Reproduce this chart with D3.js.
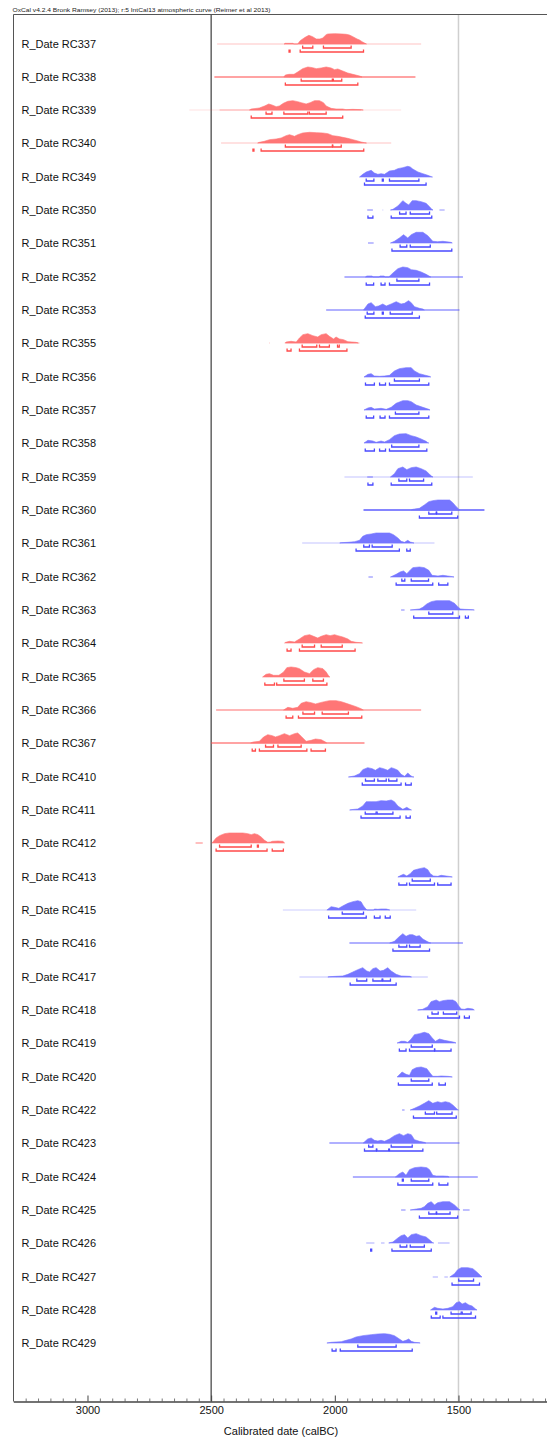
<!DOCTYPE html>
<html>
<head>
<meta charset="utf-8">
<script src="https://cdn.jsdelivr.net/npm/d3@7"></script>
<style>
  body { margin: 0; background: #fff; }
  text { font-family: "Liberation Sans", Arial, sans-serif; }
</style>
</head>
<body>
<div class="viz"></div>
<script>
// SAMPLE NAMES (top to bottom)
const labels = ['RC337','RC338','RC339','RC340','RC349','RC350','RC351','RC352','RC353','RC355',
  'RC356','RC357','RC358','RC359','RC360','RC361','RC362','RC363','RC364','RC365',
  'RC366','RC367','RC410','RC411','RC412','RC413','RC415','RC416','RC417','RC418',
  'RC419','RC420','RC422','RC423','RC424','RC425','RC426','RC427','RC428','RC429']

const redSamples = ['RC337','RC338','RC339','RC340','RC355','RC364','RC365','RC366','RC367','RC412']

// calibrated probability, [year calBC, relative prob]
const dists = [
  [[2205,0],[2200,2],[2170,2],[2165,0],[2150,0],[2140,10],[2120,20],[2105,26],[2090,22],[2075,15],[2060,15],[2049,18],[2035,28],[2028,30],[2000,31],[1970,30],[1954,29],[1941,27],[1927,22],[1910,15],[1900,12],[1890,7],[1880,3],[1872,0]],
  [[2206,0],[2200,6],[2185,8],[2165,8],[2150,15],[2130,25],[2109,30],[2090,28],[2075,25],[2055,27],[2035,30],[2015,27],[2001,22],[1988,24],[1968,18],[1948,12],[1927,8],[1900,3],[1890,0]],
  [[2345,0],[2338,3],[2305,6],[2284,12],[2267,18],[2254,15],[2237,10],[2224,12],[2208,20],[2190,26],[2170,28],[2150,25],[2136,22],[2116,18],[2100,22],[2082,28],[2062,28],[2046,22],[2035,12],[2015,5],[1995,3],[1968,3],[1955,1],[1928,2],[1894,1],[1885,0]],
  [[2312,0],[2305,2],[2285,5],[2264,10],[2237,12],[2217,15],[2197,22],[2183,25],[2163,20],[2150,25],[2130,30],[2102,32],[2075,31],[2049,30],[2028,28],[2008,22],[1988,20],[1968,17],[1948,14],[1927,10],[1907,6],[1894,3],[1880,1],[1872,0]],
  [[1900,0],[1887,8],[1873,15],[1853,20],[1840,12],[1826,8],[1813,10],[1799,8],[1779,18],[1759,20],[1745,25],[1725,28],[1705,32],[1695,30],[1685,24],[1664,15],[1644,10],[1624,5],[1610,1],[1605,0]],
  [[1775,0],[1765,2],[1745,12],[1725,28],[1712,20],[1701,15],[1687,28],[1671,28],[1651,25],[1631,20],[1617,10],[1608,2],[1603,0]],
  [[1775,0],[1759,5],[1739,15],[1722,25],[1705,15],[1691,25],[1671,32],[1644,32],[1624,22],[1604,5],[1584,4],[1563,5],[1530,2],[1525,0]],
  [[1876,0],[1870,3],[1850,3],[1844,0],[1822,0],[1817,3],[1801,3],[1796,0],[1782,0],[1765,12],[1745,25],[1725,30],[1705,28],[1691,22],[1671,20],[1651,15],[1631,8],[1617,2],[1612,0]],
  [[1884,0],[1866,18],[1853,22],[1836,10],[1823,12],[1806,18],[1792,12],[1772,18],[1752,25],[1732,18],[1718,20],[1702,28],[1691,22],[1678,10],[1658,5],[1644,3],[1638,0]],
  [[2200,0],[2197,3],[2177,5],[2156,3],[2143,15],[2129,25],[2109,28],[2089,22],[2069,18],[2055,25],[2035,28],[2022,20],[2005,12],[1995,18],[1981,12],[1965,10],[1947,4],[1914,2],[1905,0]],
  [[1882,0],[1866,8],[1853,10],[1840,3],[1819,2],[1799,3],[1779,5],[1759,18],[1739,25],[1712,28],[1691,28],[1678,18],[1658,10],[1638,6],[1617,2],[1612,0]],
  [[1882,0],[1866,6],[1853,8],[1840,3],[1813,5],[1792,2],[1772,8],[1752,20],[1725,28],[1705,28],[1691,25],[1671,15],[1644,8],[1620,2],[1615,0]],
  [[1882,0],[1866,8],[1846,6],[1833,2],[1813,6],[1799,3],[1779,10],[1759,22],[1739,27],[1712,28],[1691,22],[1671,18],[1651,12],[1631,5],[1624,1],[1620,0]],
  [[1775,0],[1759,10],[1745,25],[1725,30],[1709,22],[1691,28],[1671,30],[1651,25],[1631,18],[1617,8],[1608,2],[1603,0]],
  [[1690,0],[1685,2],[1658,5],[1638,15],[1620,25],[1604,28],[1583,30],[1563,30],[1536,30],[1523,22],[1509,10],[1499,3],[1495,0]],
  [[1980,0],[1974,1],[1947,2],[1920,4],[1900,8],[1887,20],[1873,25],[1853,27],[1833,30],[1806,30],[1779,30],[1763,25],[1745,15],[1732,5],[1718,2],[1705,8],[1695,3],[1685,1],[1680,0]],
  [[1775,0],[1752,8],[1736,15],[1722,18],[1709,10],[1698,18],[1685,28],[1658,30],[1638,28],[1620,20],[1607,5],[1583,3],[1563,5],[1543,3],[1523,1],[1518,0]],
  [[1695,0],[1658,3],[1644,8],[1628,18],[1610,25],[1590,28],[1563,28],[1536,28],[1516,20],[1503,10],[1492,3],[1476,2],[1442,1],[1436,0]],
  [[2203,0],[2199,2],[2183,5],[2163,3],[2143,12],[2123,22],[2102,25],[2086,20],[2069,15],[2055,20],[2035,25],[2019,22],[2001,25],[1988,22],[1968,18],[1947,12],[1934,5],[1914,2],[1894,1],[1888,0]],
  [[2292,0],[2278,8],[2264,10],[2248,5],[2226,5],[2207,15],[2194,28],[2177,30],[2156,28],[2143,25],[2123,15],[2102,10],[2086,22],[2069,28],[2048,25],[2035,15],[2024,2],[2020,0]],
  [[2207,0],[2190,8],[2170,5],[2150,8],[2136,20],[2116,25],[2096,22],[2078,18],[2059,22],[2042,25],[2022,28],[1995,28],[1974,25],[1954,20],[1934,15],[1914,10],[1894,4],[1885,0]],
  [[2340,0],[2330,3],[2305,5],[2288,18],[2271,25],[2253,22],[2240,18],[2224,22],[2204,28],[2183,22],[2163,28],[2150,30],[2136,20],[2116,5],[2096,8],[2078,12],[2055,10],[2038,3],[2033,0]],
  [[1945,0],[1921,3],[1900,10],[1887,22],[1867,28],[1849,25],[1836,20],[1819,28],[1803,25],[1786,20],[1772,28],[1759,25],[1745,20],[1732,8],[1718,2],[1705,12],[1695,5],[1687,1],[1680,0]],
  [[1940,0],[1934,1],[1907,3],[1887,12],[1873,25],[1853,25],[1833,25],[1813,28],[1792,27],[1772,30],[1759,25],[1745,12],[1725,2],[1709,8],[1698,3],[1690,0]],
  [[2497,0],[2493,3],[2480,15],[2466,22],[2446,28],[2426,30],[2399,30],[2372,30],[2352,28],[2338,25],[2325,28],[2311,25],[2298,18],[2284,8],[2271,2],[2260,3],[2253,5],[2230,6],[2210,5],[2203,0]],
  [[1745,0],[1732,5],[1722,8],[1709,3],[1695,10],[1682,20],[1658,25],[1638,28],[1624,22],[1614,10],[1601,3],[1584,2],[1570,5],[1550,3],[1530,1],[1525,0]],
  [[2032,0],[2015,10],[2001,8],[1984,5],[1968,12],[1947,20],[1927,25],[1907,28],[1894,25],[1884,12],[1873,2],[1868,0],[1842,0],[1840,3],[1826,2],[1813,3],[1792,3],[1778,0]],
  [[1778,0],[1759,5],[1741,18],[1725,28],[1712,20],[1698,25],[1685,25],[1671,20],[1658,22],[1644,12],[1628,5],[1617,1],[1612,0]],
  [[2028,0],[2022,1],[1995,2],[1968,3],[1947,8],[1927,15],[1907,22],[1887,28],[1871,18],[1860,15],[1846,25],[1833,28],[1817,18],[1803,20],[1786,28],[1772,18],[1752,8],[1732,3],[1698,2],[1690,0]],
  [[1665,0],[1645,2],[1624,10],[1611,25],[1590,30],[1577,25],[1563,28],[1543,30],[1523,30],[1510,25],[1499,12],[1489,3],[1476,2],[1462,5],[1442,3],[1436,0]],
  [[1748,0],[1732,5],[1718,5],[1705,2],[1691,12],[1678,25],[1658,28],[1638,32],[1620,28],[1606,15],[1593,5],[1577,12],[1557,8],[1536,5],[1516,2],[1510,0]],
  [[1748,0],[1728,15],[1712,8],[1698,5],[1687,22],[1671,28],[1651,30],[1628,25],[1615,12],[1604,2],[1584,2],[1570,3],[1543,2],[1530,1],[1525,0]],
  [[1695,0],[1678,5],[1658,12],[1638,20],[1620,28],[1604,20],[1584,25],[1570,22],[1553,25],[1536,22],[1523,15],[1509,5],[1503,1],[1500,0]],
  [[1885,0],[1867,12],[1853,15],[1840,8],[1826,6],[1813,8],[1799,5],[1779,12],[1759,22],[1739,28],[1722,22],[1705,28],[1691,25],[1678,10],[1658,5],[1638,2],[1632,0]],
  [[1755,0],[1739,10],[1725,15],[1712,5],[1698,22],[1678,28],[1651,30],[1628,28],[1617,22],[1604,5],[1590,3],[1563,3],[1543,2],[1538,0]],
  [[1695,0],[1670,3],[1651,5],[1638,10],[1624,20],[1610,25],[1597,15],[1584,22],[1563,25],[1536,25],[1516,15],[1499,3],[1494,0]],
  [[1782,0],[1765,3],[1745,15],[1732,22],[1718,25],[1705,15],[1691,25],[1671,28],[1651,22],[1631,18],[1615,8],[1604,1],[1600,0]],
  [[1535,0],[1516,10],[1503,22],[1489,28],[1462,28],[1442,25],[1426,15],[1412,5],[1405,0]],
  [[1613,0],[1597,8],[1584,5],[1563,3],[1543,5],[1523,10],[1509,22],[1496,25],[1485,18],[1472,22],[1458,15],[1445,12],[1431,3],[1425,0]],
  [[2032,0],[2015,2],[1995,3],[1974,4],[1954,8],[1934,12],[1914,18],[1887,22],[1853,25],[1826,27],[1799,28],[1779,26],[1759,22],[1739,12],[1725,5],[1712,8],[1701,12],[1691,5],[1678,2],[1660,1],[1655,0]]
]

// 68.2% ranges
const ranges68 = [
  [[2130,2089],[2046,1934]],
  [[2136,2010],[2006,1972]],
  [[2278,2254],[2206,2109],[2103,2035]],
  [[2200,2010],[2008,1974]],
  [[1873,1842],[1808,1804],[1779,1660]],
  [[1738,1712],[1695,1617]],
  [[1736,1709],[1695,1614]],
  [[1749,1660]],
  [[1869,1842],[1808,1804],[1776,1687]],
  [[2132,2073],[2062,2022],[1989,1982]],
  [[1759,1658]],
  [[1755,1660]],
  [[1770,1660]],
  [[1741,1709],[1698,1641]],
  [[1620,1590],[1588,1527]],
  [[1883,1860],[1849,1768]],
  [[1729,1717],[1691,1621]],
  [[1620,1523]],
  [[2132,2082],[2055,1970]],
  [[2206,2123],[2089,2046]],
  [[2129,2082],[2051,1945]],
  [[2280,2248],[2230,2136]],
  [[1876,1840],[1826,1792],[1782,1749]],
  [[1877,1833],[1829,1765]],
  [[2466,2338],[2313,2309]],
  [[1687,1614]],
  [[1970,1884]],
  [[1741,1709],[1698,1655]],
  [[1911,1871],[1846,1809],[1806,1775]],
  [[1607,1582],[1561,1507]],
  [[1691,1606]],
  [[1691,1620]],
  [[1634,1597],[1588,1526]],
  [[1863,1846],[1772,1687]],
  [[1727,1723],[1691,1620]],
  [[1620,1590],[1588,1534]],
  [[1736,1709],[1695,1638]],
  [[1499,1439]],
  [[1592,1588],[1530,1489],[1485,1449]],
  [[1907,1752]]
]

// 95.4% ranges
const ranges95 = [
  [[2185,2181],[2140,1884]],
  [[2200,1907]],
  [[2338,1968]],
  [[2331,2327],[2298,1883]],
  [[1880,1631]],
  [[1866,1846],[1772,1608]],
  [[1769,1527]],
  [[1873,1843],[1813,1797],[1779,1617]],
  [[1877,1658]],
  [[2193,2177],[2143,1951]],
  [[1876,1840],[1819,1795],[1779,1620]],
  [[1873,1843],[1817,1797],[1779,1620]],
  [[1877,1840],[1819,1795],[1779,1628]],
  [[1866,1846],[1772,1608]],
  [[1658,1503]],
  [[1914,1739],[1709,1695]],
  [[1752,1604],[1580,1543]],
  [[1681,1496],[1472,1460]],
  [[2193,2177],[2143,1918]],
  [[2283,2244],[2235,2032]],
  [[2197,2170],[2147,1891]],
  [[2334,2321],[2305,2113],[2096,2038]],
  [[1889,1732],[1714,1691]],
  [[1894,1736],[1712,1695]],
  [[2480,2274],[2253,2208]],
  [[1741,1709],[1698,1597],[1584,1530]],
  [[2025,1873],[1840,1817],[1796,1776]],
  [[1765,1617]],
  [[1938,1752]],
  [[1624,1496],[1476,1456]],
  [[1739,1712],[1698,1597],[1596,1530]],
  [[1743,1606],[1579,1553]],
  [[1682,1509]],
  [[1880,1832],[1830,1782],[1779,1644]],
  [[1745,1604],[1579,1543]],
  [[1658,1503]],
  [[1855,1851],[1769,1610]],
  [[1526,1415]],
  [[1610,1574],[1563,1431]],
  [[2011,1995],[1978,1687]]
]

// long low-probability tails [from, to, level]
const tails = [
  [[2476,1651,0.5]],
  [[2487,1674,1.5]],
  [[2588,1732,0.25],[2466,1894,0.6]],
  [[2460,1772,0.5]],
  [],
  [[1869,1846,1.2],[1808,1804,0.4],[1577,1556,1.0]],
  [[1866,1843,1.2]],
  [[1961,1482,1.3]],
  [[2035,1496,1.3]],
  [[2266,2262,0.4],[2203,1900,0.5]],
  [],
  [],
  [],
  [[1961,1442,0.5],[1869,1846,1.2]],
  [[1884,1395,2]],
  [[2132,1597,0.5]],
  [[1864,1846,1.2]],
  [[1732,1718,1.2]],
  [],
  [],
  [[2480,1651,1.2]],
  [[2500,1880,1.5]],
  [],
  [],
  [[2563,2534,1.2]],
  [],
  [[2210,1671,0.4]],
  [[1941,1482,1.3]],
  [[2143,1624,0.5]],
  [],
  [],
  [],
  [[1728,1718,1.2]],
  [[2022,1496,1.3]],
  [[1927,1422,1.3]],
  [[1732,1714,1.2],[1482,1455,1.2]],
  [[1873,1840,0.8],[1813,1799,0.8],[1583,1536,0.8]],
  [[1604,1583,0.8],[1557,1543,0.8]],
  [],
  []
]

const majorTicks = [3000, 2500, 2000, 1500]
const headerText = 'OxCal v4.2.4 Bronk Ramsey (2013); r:5 IntCal13 atmospheric curve (Reimer et al 2013)'
const axisTitle = 'Calibrated date (calBC)'

const width = 547
const height = 1439
const frameLeft = 13.5
const frameTop = 14.5
const axisY = 1401.5

const svg = d3.select('.viz')
  .append('svg')
  .attr('width', width)
  .attr('height', height)
  .style('display', 'block')

const x = d3.scaleLinear().domain([3300, 1100]).range([13.3, 557.4])
const y = d3.scalePoint().domain(labels).range([43.5, 1343.4])
const h = d3.scaleLinear().domain([0, 32]).range([0, 10.7])
const tailOpacity = d3.scaleLinear().domain([0, 2]).range([0, 0.9]).clamp(true)

const col = name => redSamples.includes(name)
  ? { fill: '#ff7676', line: '#ff4a4a' }
  : { fill: '#7676ff', line: '#4a4aff' }

// reference lines
svg.append('line')
  .attr('x1', x(1500)).attr('x2', x(1500))
  .attr('y1', frameTop).attr('y2', axisY)
  .attr('stroke', '#cfcfcf').attr('stroke-width', 1.5)

svg.append('line')
  .attr('x1', x(2500)).attr('x2', x(2500))
  .attr('y1', frameTop).attr('y2', axisY)
  .attr('stroke', '#4a4a4a').attr('stroke-width', 1.3)

// frame
svg.append('path')
  .attr('d', `M${width},${frameTop}H${frameLeft}V${axisY}`)
  .attr('fill', 'none')
  .attr('stroke', '#555')
  .attr('stroke-width', 1)

svg.append('text')
  .text(headerText)
  .attr('x', 12.5)
  .attr('y', 12)
  .attr('font-size', 6.2)
  .attr('fill', '#222')
  .attr('textLength', 258)
  .attr('lengthAdjust', 'spacingAndGlyphs')

const area = d3.area()
  .x(d => x(d[0]))
  .y0(0)
  .y1(d => -h(d[1]))

// bracket: line with ends turned up
const bracket = (r, off) =>
  `M${x(r[0])},${off - 2.5}V${off}H${x(r[1])}V${off - 2.5}`

const rows = svg.selectAll('g.row')
  .data(labels)
  .enter()
  .append('g')
  .attr('class', 'row')
  .attr('transform', d => `translate(0,${Math.round(y(d))})`)

rows.append('text')
  .text(d => `R_Date ${d}`)
  .attr('x', 21.5)
  .attr('y', 4)
  .attr('font-size', 11)
  .attr('fill', '#111')

rows.selectAll('line.tail')
  .data((d, i) => tails[i].map(t => ({ t, name: d })))
  .enter()
  .append('line')
  .attr('class', 'tail')
  .attr('x1', d => x(d.t[0]))
  .attr('x2', d => x(d.t[1]))
  .attr('y1', 0).attr('y2', 0)
  .attr('stroke', d => col(d.name).line)
  .attr('stroke-opacity', d => tailOpacity(d.t[2]))
  .attr('stroke-width', 1.3)

rows.append('path')
  .attr('d', (d, i) => area(dists[i]))
  .attr('fill', d => col(d).fill)
  .attr('stroke', d => col(d).fill)
  .attr('stroke-width', 0.6)

rows.selectAll('path.r68')
  .data((d, i) => ranges68[i].map(r => ({ r, name: d })))
  .enter()
  .append('path')
  .attr('class', 'r68')
  .attr('d', d => bracket(d.r, 4))
  .attr('fill', 'none')
  .attr('stroke', d => col(d.name).line)
  .attr('stroke-width', 1.3)

rows.selectAll('path.r95')
  .data((d, i) => ranges95[i].map(r => ({ r, name: d })))
  .enter()
  .append('path')
  .attr('class', 'r95')
  .attr('d', d => bracket(d.r, 8))
  .attr('fill', 'none')
  .attr('stroke', d => col(d.name).line)
  .attr('stroke-width', 1.3)

// AXIS
const minorTicks = d3.range(3250, 1100, -50).filter(t => !majorTicks.includes(t))

svg.append('g')
  .attr('transform', `translate(0,${axisY})`)
  .call(d3.axisBottom(x).tickValues(minorTicks).tickSize(-3).tickSizeOuter(0).tickFormat(''))
  .call(g => g.selectAll('line').attr('stroke', '#777'))
  .call(g => g.select('.domain').remove())

svg.append('g')
  .attr('transform', `translate(0,${axisY})`)
  .call(d3.axisBottom(x).tickValues(majorTicks).tickSize(-6).tickSizeOuter(0).tickPadding(5).tickFormat(d3.format('d')))
  .call(g => g.select('.domain').attr('stroke', '#444').attr('stroke-width', 1.3))
  .call(g => g.selectAll('line').attr('stroke', '#444'))
  .call(g => g.selectAll('text').attr('font-size', 11).attr('fill', '#111')
    .attr('font-family', '"Liberation Sans", Arial, sans-serif'))

svg.append('text')
  .text(axisTitle)
  .attr('x', 281)
  .attr('y', 1435)
  .attr('text-anchor', 'middle')
  .attr('font-size', 11)
  .attr('fill', '#111')
</script>
</body>
</html>
